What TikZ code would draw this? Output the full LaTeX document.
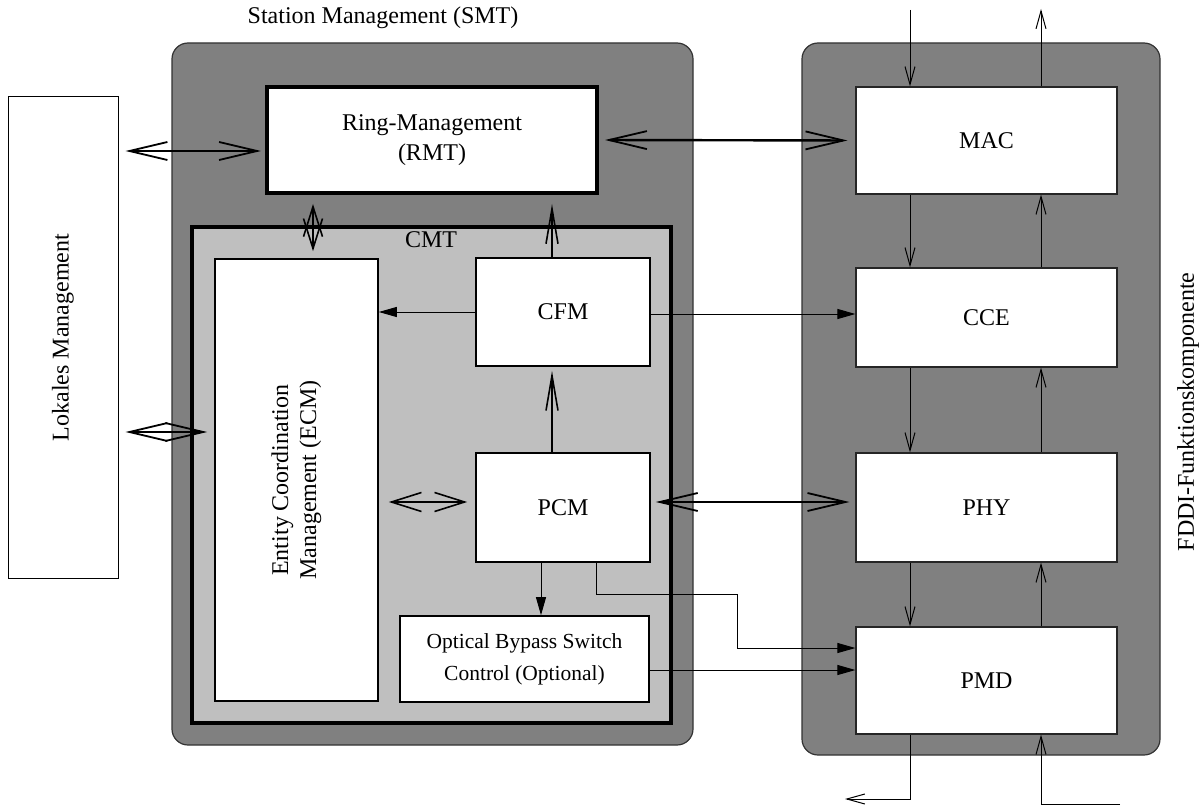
\documentclass[tikz,border=0pt]{standalone}
\usepackage{fontspec}
\setmainfont{Liberation Serif}
\usetikzlibrary{arrows.meta}
\begin{document}
\begin{tikzpicture}[x=1pt,y=-1pt,
  every node/.style={font=\fontsize{24}{30}\selectfont},
  frame/.style={draw=black!80, line width=1.2pt, fill=black!50, rounded corners=16pt, inner sep=0pt},
  wbox/.style={draw=black, line width=1.6pt, fill=white, inner sep=0pt, align=center},
  thinbox/.style={draw=black!85, line width=1.2pt, fill=white, inner sep=0pt, align=center},
  thickbox/.style={draw=black, line width=4pt, fill=white, inner sep=0pt, align=center},
  bigdbl/.style={line width=2.4pt, {Straight Barb[length=38pt,width=18pt,line width=1.8pt]}-{Straight Barb[length=38pt,width=18pt,line width=1.8pt]}},
  middbl/.style={line width=2.2pt, {Straight Barb[length=30pt,width=19pt,line width=1.6pt]}-{Straight Barb[length=30pt,width=19pt,line width=1.6pt]}},
  openup/.style={line width=1.6pt, -{Straight Barb[length=35pt,width=12pt,line width=1.6pt]}},
  fillar/.style={line width=1pt, -{Triangle[length=18pt,width=10pt]}},
  smallar/.style={line width=1pt, -{Straight Barb[length=18pt,width=10pt,line width=1pt]}}
]
\useasboundingbox (0,0) rectangle (1202,805);

% outer frames
\node[draw=black, line width=1pt, fill=white, minimum width=110pt, minimum height=481pt, inner sep=0pt] (LM) at (63,337.5) {};
\node[rotate=90] (LMt) at (LM.center) {Lokales Management};
\node[frame, minimum width=521pt, minimum height=702pt] (SMT) at (432.5,394) {};
\node (SMTt) at (383,18) {Station Management (SMT)};
\node[frame, minimum width=358pt, minimum height=712pt] (RB) at (981,399) {};
\node[rotate=90] (RBt) at (1188,412) {FDDI-Funktionskomponente};

% SMT contents
\node[thickbox, minimum width=330pt, minimum height=106pt] (RMT) at (432,140) {Ring-Management\\(RMT)};
\node[draw=black, line width=4pt, fill=black!25, minimum width=479pt, minimum height=496pt, inner sep=0pt] (CMT) at (431.5,475) {};
\node (CMTt) at (431,240) {CMT};
\node[wbox, minimum width=163pt, minimum height=442pt] (ECM) at (296.5,480) {};
\node[rotate=90, align=center, font=\fontsize{24}{28}\selectfont] (ECMt) at (ECM.center) {Entity Coordination\\Management (ECM)};
\node[wbox, minimum width=174pt, minimum height=108pt] (CFM) at (563,312) {CFM};
\node[wbox, minimum width=174pt, minimum height=109pt] (PCM) at (563,507.5) {PCM};
\node[wbox, minimum width=249pt, minimum height=86pt, font=\fontsize{21.5}{32}\selectfont] (OBS) at (524.5,659) {Optical Bypass Switch\\Control (Optional)};

% FDDI components
\node[thinbox, minimum width=261pt, minimum height=107pt] (MAC) at (986.5,140.5) {MAC};
\node[thinbox, minimum width=261pt, minimum height=99pt] (CCE) at (986.5,317.5) {CCE};
\node[thinbox, minimum width=261pt, minimum height=109pt] (PHY) at (986.5,507.5) {PHY};
\node[thinbox, minimum width=261pt, minimum height=107pt] (PMD) at (986.5,680.5) {PMD};

% big double arrows
\draw[bigdbl, shorten <=7pt, shorten >=4pt] (LM.east |- 0,151) -- (RMT.west |- 0,151);
\draw[bigdbl, shorten <=6pt, shorten >=8pt] (RMT.east) -- (MAC.west);
\draw[bigdbl, shorten <=7pt, shorten >=7pt] (LM.east |- 0,432) -- (ECM.west |- 0,432);
\draw[bigdbl, shorten <=5pt, shorten >=6pt] (PCM.east |- 0,502) -- (PHY.west |- 0,502);
\draw[middbl, shorten <=10pt, shorten >=8pt] (ECM.east |- 0,502) -- (PCM.west |- 0,502);
\draw[middbl, shorten <=9pt, shorten >=7pt] (RMT.south -| 313,0) -- (ECM.north -| 313,0);

% CFM / PCM
\draw[openup, shorten >=9pt] (CFM.north -| 552,0) -- (RMT.south -| 552,0);
\draw[openup, shorten >=4pt] (PCM.north -| 552,0) -- (CFM.south -| 552,0);
\draw[fillar] (CFM.west |- 0,312) -- (ECM.east |- 0,312);
\draw[fillar] (CFM.east |- 0,314) -- (CCE.west |- 0,314);
\draw[fillar] (PCM.south -| 541,0) -- (OBS.north -| 541,0);
\coordinate (bend) at (737,594);
\draw[fillar] (PCM.south -| 596,0) |- (bend) |- (PMD.west |- 0,648);
\draw[fillar] (OBS.east |- 0,670) -- (PMD.west |- 0,670);

% FDDI chain
\coordinate (inTop) at (910,10);
\coordinate (outTop) at (1041,9);
\coordinate (outBot) at (845,799);
\coordinate (inBot) at (1120,804);
\draw[smallar] (inTop) -- (MAC.north -| inTop);
\draw[smallar] (MAC.north -| outTop) -- (outTop);
\draw[smallar] (MAC.south -| 910,0) -- (CCE.north -| 910,0);
\draw[smallar] (CCE.north -| 1041,0) -- (MAC.south -| 1041,0);
\draw[smallar] (CCE.south -| 910,0) -- (PHY.north -| 910,0);
\draw[smallar] (PHY.north -| 1041,0) -- (CCE.south -| 1041,0);
\draw[smallar] (PHY.south -| 910,0) -- (PMD.north -| 910,0);
\draw[smallar] (PMD.north -| 1041,0) -- (PHY.south -| 1041,0);
\draw[smallar] (PMD.south -| 910,0) |- (outBot);
\draw[smallar] (inBot) -| (PMD.south -| 1041,0);
\end{tikzpicture}
\end{document}
